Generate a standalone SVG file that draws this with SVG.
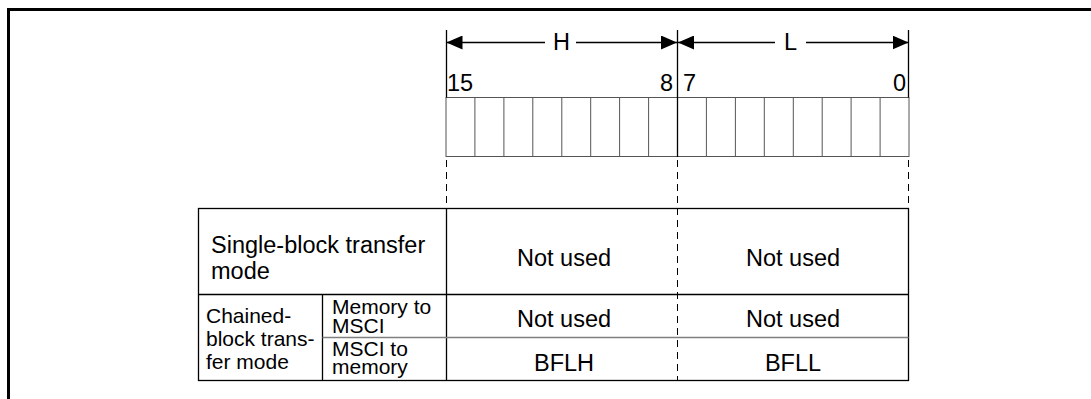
<svg xmlns="http://www.w3.org/2000/svg" width="1091" height="399" viewBox="0 0 1091 399">
<style>
text{font-family:"Liberation Sans",Arial,sans-serif;fill:#000}
.t{font-size:23.5px}
.s{font-size:21px}
.c{text-anchor:middle}
.ln{stroke:#000;stroke-width:1.3;fill:none}
.cell{stroke:#555;stroke-width:1;fill:none}
.dash{stroke:#000;stroke-width:1;stroke-dasharray:7 5;fill:none}
.grey{stroke:#808080;stroke-width:1.6;fill:none}
</style>
<defs>
<marker id="ah" viewBox="0 0 16 14" refX="16" refY="7" markerWidth="16" markerHeight="14" markerUnits="userSpaceOnUse" orient="auto-start-reverse">
<path d="M0,0 L16,7 L0,14 Z" fill="#000"/>
</marker>
</defs>
<rect width="1091" height="399" fill="#fff"/>
<path d="M8.5,399 V9.5 H1091" stroke="#000" stroke-width="3" fill="none"/>

<g id="register">
<rect x="446" y="97.5" width="463" height="59" class="cell" stroke="#444"/>
<path class="cell" d="M474.9,97.5V156.5M503.9,97.5V156.5M532.8,97.5V156.5M561.8,97.5V156.5M590.7,97.5V156.5M619.6,97.5V156.5M648.6,97.5V156.5M706.4,97.5V156.5M735.4,97.5V156.5M764.3,97.5V156.5M793.3,97.5V156.5M822.2,97.5V156.5M851.1,97.5V156.5M880.1,97.5V156.5"/>
<text class="t" x="447" y="90.5">15</text>
<text class="t" x="673" y="90.5" text-anchor="end">8</text>
<text class="t" x="683" y="90.5">7</text>
<text class="t" x="906" y="90.5" text-anchor="end">0</text>
<text class="t c" x="561.5" y="50">H</text>
<text class="t c" x="790.5" y="50">L</text>
</g>

<g id="connectors">
<path class="ln" d="M446.5,30V97.5M677.5,30V157M908.5,30V97.5" stroke-width="1"/>
<path class="ln" stroke-width="1" d="M545,42.5H446.5" marker-end="url(#ah)"/>
<path class="ln" stroke-width="1" d="M576,42.5H677" marker-end="url(#ah)"/>
<path class="ln" stroke-width="1" d="M775,42.5H678" marker-end="url(#ah)"/>
<path class="ln" stroke-width="1" d="M806,42.5H908.5" marker-end="url(#ah)"/>
<path class="dash" d="M446.5,160V208M677.5,160V381M908.5,160V208"/>
</g>

<g id="table">
<rect x="198.5" y="208.5" width="710" height="172" class="ln"/>
<path class="ln" d="M198.5,294.5H908.5M322.5,294.5V380.5M446.5,208.5V380.5"/>
<path class="grey" d="M322.5,337.5H908.5"/>
</g>

<g id="row-single">
<text class="t" x="211" y="253">Single-block transfer</text>
<text class="t" x="211" y="279">mode</text>
<text class="t c" x="564" y="266">Not used</text>
<text class="t c" x="793" y="266">Not used</text>
</g>

<g id="row-chained">
<text class="s" x="206" y="323">Chained-</text>
<text class="s" x="206" y="346">block trans-</text>
<text class="s" x="206" y="369">fer mode</text>
<text class="s" x="332" y="314">Memory to</text>
<text class="s" x="332" y="333">MSCI</text>
<text class="s" x="332" y="356">MSCI to</text>
<text class="s" x="332" y="374">memory</text>
<text class="t c" x="564" y="327">Not used</text>
<text class="t c" x="793" y="327">Not used</text>
<text class="t c" x="564" y="371">BFLH</text>
<text class="t c" x="793" y="371">BFLL</text>
</g>
</svg>
